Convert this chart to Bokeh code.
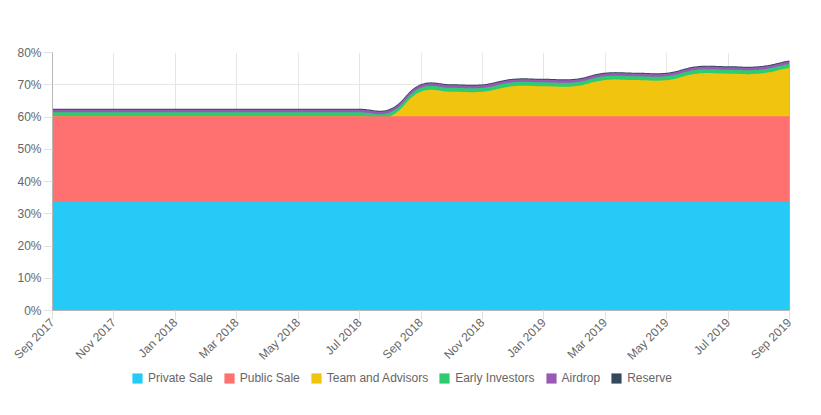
import math
from bokeh.plotting import figure
from bokeh.layouts import column
from bokeh.models import Range1d, FixedTicker, Legend, LegendItem
from bokeh.embed import file_html
from bokeh.resources import INLINE

# ---------------- data ----------------
months = ["Sep 2017", "Oct 2017", "Nov 2017", "Dec 2017", "Jan 2018", "Feb 2018",
          "Mar 2018", "Apr 2018", "May 2018", "Jun 2018", "Jul 2018", "Aug 2018",
          "Sep 2018", "Oct 2018", "Nov 2018", "Dec 2018", "Jan 2019", "Feb 2019",
          "Mar 2019", "Apr 2019", "May 2019", "Jun 2019", "Jul 2019", "Aug 2019",
          "Sep 2019"]
private_sale = [33.5, 33.5, 33.5, 33.5, 33.5, 33.5, 33.5, 33.5, 33.5, 33.5, 33.5, 33.5,
                33.5, 33.5, 33.5, 33.5, 33.5, 33.5, 33.5, 33.5, 33.5, 33.5, 33.5, 33.5, 33.5]
public_sale = [26.5, 26.5, 26.5, 26.5, 26.5, 26.5, 26.5, 26.5, 26.5, 26.5, 26.5, 26.5,
               26.5, 26.5, 26.5, 26.5, 26.5, 26.5, 26.5, 26.5, 26.5, 26.5, 26.5, 26.5, 26.5]
team_advisors = [0, 0, 0, 0, 0, 0, 0, 0, 0, 0, 0, 0,
                 7.6, 7.6, 7.6, 9.3, 9.3, 9.3, 11.2, 11.2, 11.2, 13.2, 13.2, 13.2, 15.0]
early_investors = [1.2, 1.2, 1.2, 1.2, 1.2, 1.2, 1.2, 1.2, 1.2, 1.2, 1.2, 1.2,
                   1.2, 1.2, 1.2, 1.2, 1.2, 1.2, 1.2, 1.2, 1.2, 1.2, 1.2, 1.2, 1.2]
airdrop = [0.8, 0.8, 0.8, 0.8, 0.8, 0.8, 0.8, 0.8, 0.8, 0.8, 0.8, 0.8,
           0.8, 0.8, 0.8, 0.8, 0.8, 0.8, 0.8, 0.8, 0.8, 0.8, 0.8, 0.8, 0.8]
reserve = [0.3, 0.3, 0.3, 0.3, 0.3, 0.3, 0.3, 0.3, 0.3, 0.3, 0.3, 0.3,
           0.3, 0.3, 0.3, 0.3, 0.3, 0.3, 0.3, 0.3, 0.3, 0.3, 0.3, 0.3, 0.3]
series_names = ["Private Sale", "Public Sale", "Team and Advisors",
                "Early Investors", "Airdrop", "Reserve"]
series_values = [private_sale, public_sale, team_advisors, early_investors, airdrop, reserve]
series_colors = ["#25CBF6", "#FF7171", "#F1C40F", "#2ECC71", "#9B59B6", "#34495E"]
y_ticks = [0, 10, 20, 30, 40, 50, 60, 70, 80]
x_ticks = [0, 2, 4, 6, 8, 10, 12, 14, 16, 18, 20, 22, 24]

# ---------------- layout ----------------
W = 821
MAIN_H = 370
LEG_H = 415 - MAIN_H
B_LEFT, B_RIGHT, B_TOP = 52, 32, 52
B_BOTTOM = MAIN_H - 310
FW = W - B_LEFT - B_RIGHT
FH = MAIN_H - B_TOP - B_BOTTOM
n = len(months)
YMAX = 80
sx = FW / (n - 1)
sy = FH / YMAX
TENSION = 0.4
FONT = "Liberation Sans"
TXT = "#666666"


def smooth(vals):
    """Chart.js style cardinal spline through the data points (rendering only)."""
    pts = [(i * sx, v * sy) for i, v in enumerate(vals)]
    cps = []
    for i, cur in enumerate(pts):
        prev = pts[i - 1] if i > 0 else cur
        nxt = pts[i + 1] if i < n - 1 else cur
        d01 = math.hypot(cur[0] - prev[0], cur[1] - prev[1])
        d12 = math.hypot(nxt[0] - cur[0], nxt[1] - cur[1])
        tot = d01 + d12
        s01 = d01 / tot if tot else 0
        s12 = d12 / tot if tot else 0
        fa, fb = TENSION * s01, TENSION * s12
        cp_prev = (cur[0] - fa * (nxt[0] - prev[0]), cur[1] - fa * (nxt[1] - prev[1]))
        cp_next = (cur[0] + fb * (nxt[0] - prev[0]), cur[1] + fb * (nxt[1] - prev[1]))

        def cap(c):
            return (min(max(c[0], 0), FW), min(max(c[1], 0), FH))
        cps.append((cap(cp_prev), cap(cp_next)))
    xs, ys = [], []
    steps = 24
    for i in range(n - 1):
        p0 = pts[i]
        p1 = cps[i][1]
        p2 = cps[i + 1][0]
        p3 = pts[i + 1]
        for k in range(steps + (1 if i == n - 2 else 0)):
            t = k / steps
            a = (1 - t) ** 3
            b = 3 * (1 - t) ** 2 * t
            c = 3 * (1 - t) * t ** 2
            d = t ** 3
            X = a * p0[0] + b * p1[0] + c * p2[0] + d * p3[0]
            Y = a * p0[1] + b * p1[1] + c * p2[1] + d * p3[1]
            xs.append(X / sx)
            ys.append(Y / sy)
    return xs, ys


p = figure(width=W, height=MAIN_H, output_backend="svg", toolbar_location=None,
           x_range=Range1d(0, n - 1), y_range=Range1d(0, YMAX),
           min_border_left=B_LEFT, min_border_right=B_RIGHT,
           min_border_top=B_TOP, min_border_bottom=B_BOTTOM)
p.outline_line_color = None
p.background_fill_color = "white"
p.border_fill_color = "white"

# cumulative stacks
cums = []
run = [0.0] * n
for vals in series_values:
    run = [a + b for a, b in zip(run, vals)]
    cums.append(run)

for k in reversed(range(len(series_values))):
    cx, cy = smooth(cums[k])
    px = cx + [n - 1, 0]
    py = cy + [0, 0]
    p.patch(px, py, fill_color=series_colors[k], line_color=None)
    p.line(cx, cy, line_color=series_colors[k], line_width=1.6)

# axes
p.xaxis.ticker = FixedTicker(ticks=x_ticks)
p.xaxis.major_label_overrides = {i: months[i] for i in x_ticks}
p.xaxis.major_label_orientation = math.pi / 4
p.yaxis.ticker = FixedTicker(ticks=y_ticks)
p.yaxis.major_label_overrides = {v: f"{v}%" for v in y_ticks}
for ax in (p.xaxis, p.yaxis):
    ax.major_label_text_font = FONT
    ax.major_label_text_font_size = "12px"
    ax.major_label_text_color = TXT
    ax.major_tick_in = 0
    ax.major_tick_out = 9
    ax.major_tick_line_color = "#e0e0e0"
    ax.minor_tick_line_color = None
    ax.axis_line_color = "#b5b5b5"
    ax.major_label_standoff = 2
p.xaxis.major_label_standoff = 1

p.xgrid.ticker = FixedTicker(ticks=x_ticks)
p.ygrid.ticker = FixedTicker(ticks=y_ticks)
p.grid.grid_line_color = "#e6e6e6"
p.grid.grid_line_width = 1

# ---------------- legend strip ----------------
leg = figure(width=W, height=LEG_H, output_backend="svg", toolbar_location=None,
             x_range=Range1d(0, 1), y_range=Range1d(0, 1),
             x_axis_type=None, y_axis_type=None, min_border=0)
leg.outline_line_color = None
leg.grid.visible = False
leg.border_fill_color = "white"
items = []
for name, col in zip(series_names, series_colors):
    # off-range proxy renderer: only its legend swatch is visible
    r = leg.rect(x=[-10], y=[-10], width=0.1, height=0.1,
                 fill_color=col, line_color=col, line_alpha=0.5, line_width=1)
    items.append(LegendItem(label=name, renderers=[r]))
legend = Legend(items=items, orientation="horizontal", location=(79, 30))
legend.label_text_font = FONT
legend.label_text_font_size = "12px"
legend.label_text_color = TXT
legend.glyph_width = 12
legend.glyph_height = 12
legend.label_standoff = 5
legend.spacing = 10
legend.padding = 0
legend.margin = 0
legend.border_line_color = None
legend.background_fill_alpha = 0
legend.label_height = 12
leg.add_layout(legend, "center")

layout = column(p, leg, spacing=0)
open("out.html", "w").write(file_html(layout, INLINE))
